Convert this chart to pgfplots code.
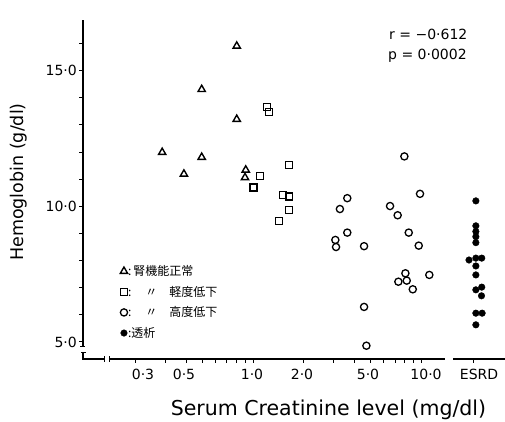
\documentclass[border=0pt]{standalone}
\usepackage{pgfplots}
\pgfplotsset{compat=1.18}
\usepackage{fontspec}
\setmainfont{DejaVu Sans}
\newfontfamily\cjk{Noto Sans CJK JP}

\begin{document}
\begin{tikzpicture}
\begin{axis}[
  at={(0,0)}, anchor=south west,
  scale only axis, width=422pt, height=339pt, clip=false,
  xmode=log, xmin=0.0973, xmax=31.6, ymin=4.37, ymax=16.87,
  axis line style={draw=none},
  major tick length=0pt, minor tick length=0pt,
  xtick={0.2214,0.3884,0.9864,1.957,4.836,10.71,22.15},
  xticklabels={0·3,0·5,1·0,2·0,5·0,10·0,ESRD},
  xticklabel style={anchor=base, yshift=-20pt},
  ytick={5,10,15}, yticklabels={5·0,10·0,15·0},
  yticklabel style={anchor=east, inner sep=0pt, xshift=-6pt},
  ticklabel style={font=\fontsize{14}{14}\selectfont},
  xlabel={Serum Creatinine level (mg/dl)},
  xlabel style={at={(axis description cs:0.5817,-0.1652)}, anchor=base, font=\fontsize{20.5}{20}\selectfont},
  ylabel={Hemoglobin (g/dl)},
  ylabel style={at={(axis description cs:-0.1528,0.522)}, anchor=center, font=\fontsize{17.5}{18}\selectfont},
  legend style={draw=none, fill=none, at={(axis description cs:0.088,0.278)}, anchor=north west,
    inner sep=0pt, row sep=8pt, font=\cjk\fontsize{12}{12}\selectfont,
    nodes={inner sep=0.5pt, anchor=west}},
  legend cell align=left,
  legend image code/.code={\draw[#1] plot coordinates {(0.1cm,0cm)};},
]
\addplot[only marks, mark=triangle, mark size=4.2pt, mark options={line width=1.4pt}] coordinates {
(0.80,15.91) (0.495,14.31) (0.80,13.21) (0.288,11.99) (0.495,11.81) (0.388,11.19) (0.905,11.34) (0.896,11.06)};
\addlegendentry{:\hspace{2pt}腎機能正常}
\addplot[only marks, mark=square, mark size=3.5pt, mark options={line width=1.3pt}] coordinates {
(1.206,13.67) (1.245,13.48) (1.645,11.52) (1.10,11.13) (1.007,10.69) (1.509,10.42) (1.645,10.36) (1.645,9.87) (1.428,9.47)};
\addlegendentry{:\hspace{14pt}〃\hspace{12pt}軽度低下}
\addplot[only marks, mark=o, mark size=3.6pt, mark options={line width=1.3pt}] coordinates {
(7.96,11.84) (9.86,10.46) (3.64,10.30) (3.29,9.90) (6.54,10.01) (7.26,9.67) (3.64,9.03) (8.45,9.03) (3.09,8.76) (3.12,8.50) (4.58,8.53) (9.69,8.55) (8.07,7.53) (7.33,7.22) (8.22,7.26) (11.2,7.47) (8.93,6.94) (4.58,6.29) (4.73,4.86)};
\addlegendentry{:\hspace{14pt}〃\hspace{12pt}高度低下}
\addplot[only marks, mark=*, mark size=3.3pt, mark options={fill=black}] coordinates {
(21.2,10.20) (21.2,9.28) (21.2,9.07) (21.2,8.88) (21.2,8.66) (19.3,8.02) (21.2,8.09) (22.98,8.09) (21.2,7.80) (21.2,7.47) (22.98,7.02) (21.2,6.92) (22.9,6.70) (21.2,6.06) (23.1,6.06) (21.2,5.63)};
\addlegendentry{:透析}
\end{axis}
% axis lines with breaks (axis box is at the origin, 422pt x 339pt, 168pt per decade)
\draw[line width=1.2pt] (0,12pt) -- (0,339pt) (0,6pt) -- (0,0) -- (21pt,0)
  (26pt,0) -- (362pt,0) (370pt,0) -- (422pt,0);
\draw[line width=1pt] (-3pt,12pt) -- (2pt,12pt) (-2pt,6pt) -- (3pt,6pt)
  (21pt,-3pt) -- (21pt,3pt) (26pt,-3pt) -- (26pt,3pt);
% outward ticks: x at 0.2,...,1,2,...,10 and ESRD; y at 5,...,16
\foreach \x in {52.58,82.16,103.16,119.44,132.74,143.99,153.73,162.33,170.02,
  220.60,250.18,271.18,287.46,300.76,312.01,321.75,330.35,338.04,390.42}
  \draw[line width=1pt] (\x pt,0) -- (\x pt,-4.5pt);
\foreach \y in {17.09,44.21,71.33,98.45,125.57,152.69,179.81,206.93,234.05,261.17,288.29,315.41}
  \draw[line width=1pt] (0,\y pt) -- (-4.5pt,\y pt);
\node[anchor=base west, inner sep=0pt, font=\fontsize{14}{14}\selectfont] at (306pt,319pt) {r = −0·612};
\node[anchor=base west, inner sep=0pt, font=\fontsize{14}{14}\selectfont] at (305pt,299pt) {p = 0·0002};
\pgfresetboundingbox
\path (-83pt,-63pt) rectangle (422pt,359pt);
\end{tikzpicture}
\end{document}
